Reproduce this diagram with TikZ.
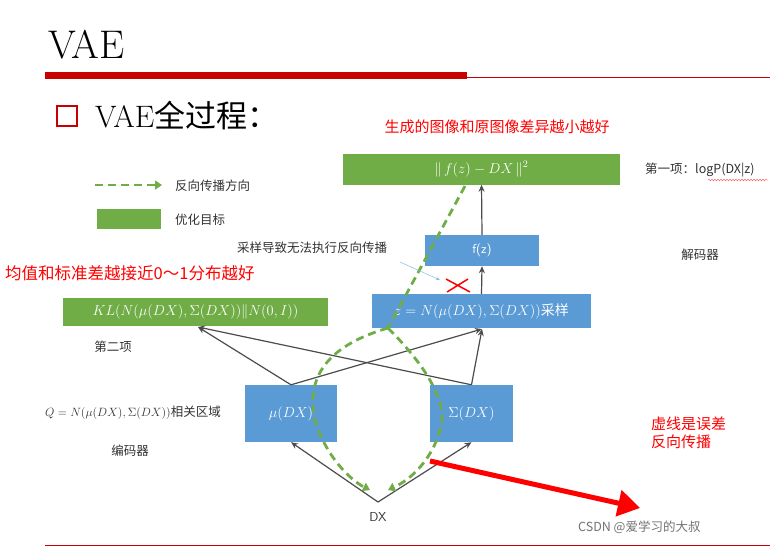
\documentclass[tikz,border=0pt]{standalone}
\usepackage{fontspec}
\newfontfamily\cjk{Noto Sans CJK SC}
\usetikzlibrary{arrows.meta,decorations.pathmorphing}
\definecolor{gbox}{RGB}{112,173,71}
\definecolor{bbox}{RGB}{91,155,213}
\definecolor{dred}{RGB}{200,0,0}
\begin{document}
\begin{tikzpicture}[x=1pt,y=-1pt,
  gr/.style={fill=gbox,draw=none,text=white,inner sep=0,font=\fontsize{14}{16}\selectfont},
  bl/.style={fill=bbox,draw=none,text=white,inner sep=0,font=\fontsize{14}{16}\selectfont},
  lbl/.style={font=\cjk\fontsize{12.5}{15}\selectfont,text=black!80,inner sep=0},
  rlbl/.style={font=\cjk\fontsize{15}{17}\selectfont,text=red,inner sep=0},
  ar/.style={draw=black!70,line width=1.2pt,-{Stealth[length=7pt,width=6pt]}},
  bp/.style={draw=gbox,line width=2.8pt,dash pattern=on 8pt off 5pt,-{Triangle[length=7pt,width=9pt]}}]
\useasboundingbox (0,0) rectangle (783,547);
\fill[white] (0,0) rectangle (783,547);
% header
\node[anchor=west,inner sep=0,font=\fontsize{40}{44}\selectfont] (title) at (48,45) {VAE};
\fill[dred] (45,72) rectangle (467,79);
\draw[dred,line width=0.8pt] (467,77) -- (770,77);
\draw[dred,line width=2.5pt] (57,106) rectangle (77,126);
\node[anchor=west,inner sep=0,font=\fontsize{31}{34}\selectfont] (sub) at (95,116) {VAE{\cjk 全过程：}};
\draw[dred,line width=0.8pt] (45,545) -- (770,545);
% boxes
\node[gr,minimum width=277,minimum height=31] (f) at (481.5,169) {$\Vert\, f(z) - DX\,\Vert^2$};
\node[bl,minimum width=114,minimum height=31,font=\sffamily\fontsize{13}{15}\selectfont] (fz) at (482,250.5) {f(z)};
\node[bl,minimum width=219,minimum height=34] (z) at (481.5,311) {$z=N\big(\mu(DX),\Sigma(DX)\big)${\cjk 采样}};
\node[gr,minimum width=265,minimum height=28] (kl) at (195.5,312) {$KL\big(N\big(\mu(DX),\Sigma(DX)\big)\Vert N(0,I)\big)$};
\node[bl,minimum width=92,minimum height=57] (mu) at (291,413.5) {$\mu(DX)$};
\node[bl,minimum width=83,minimum height=57] (sg) at (471.5,413.5) {$\Sigma(DX)$};
\node[inner sep=0,font=\sffamily\fontsize{13}{15}\selectfont,text=black!80] (dx) at (378,517) {DX};
\coordinate (dxp) at (378,502);
% labels
\node[rlbl] (t1) at (497,127) {生成的图像和原图像差异越小越好};
\node[lbl,anchor=west] (t2) at (645,170) {第一项：logP(DX|z)};
\draw[red!70,line width=0.4pt,decorate,decoration={snake,amplitude=0.8pt,segment length=3pt}] (708,180) -- (768,180);
\node[lbl,anchor=west] (t3) at (175,186) {反向传播方向};
\node[gr,minimum width=64,minimum height=20] (leg) at (129,219) {};
\node[lbl,anchor=west] (t4) at (175,220) {优化目标};
\node[lbl,anchor=west] (t5) at (237,248) {采样导致无法执行反向传播};
\node[lbl] (t6) at (700,255) {解码器};
\node[rlbl,anchor=west,font=\cjk\fontsize{16.5}{18}\selectfont] (t7) at (5,273) {均值和标准差越接近0～1分布越好};
\node[lbl] (t8) at (113,347) {第二项};
\node[lbl,anchor=west] (t9) at (45,413) {$Q=N\big(\mu(DX),\Sigma(DX)\big)$相关区域};
\node[lbl] (t10) at (130,451) {编码器};
\node[rlbl,anchor=west,align=left,font=\cjk\fontsize{15}{18}\selectfont] (t11) at (651,433) {虚线是误差\\反向传播};
\node[inner sep=0,anchor=west,font=\cjk\fontsize{12.5}{15}\selectfont,text=black!55] (t12) at (578,527) {CSDN @爱学习的大叔};
% legend arrow
\coordinate (la) at (95,185); \coordinate (lb) at (162,185);
\draw[bp] (la) -- (lb);
% gray arrows
\draw[ar] (dxp) -- (mu.south);
\draw[ar] (dxp) -- (sg.south);
\draw[ar] (mu.north) -- (198,327);
\draw[ar] (sg.north) -- (198,327);
\draw[ar] (mu.north) -- (482,329);
\draw[ar] (sg.north) -- (482,329);
\draw[ar] (z.north) -- (fz.south);
\draw[ar] (fz.north) -- (f.south);
% backprop
\coordinate (b0) at (465,186);
\coordinate (bz) at (388,328);
\draw[bp,-] (b0) -- (bz);
\draw[bp] (bz) .. controls (330,345) and (305,375) .. (315,420) .. controls (325,455) and (350,480) .. (370,490);
\draw[bp] (bz) .. controls (420,360) and (450,400) .. (440,430) .. controls (432,460) and (410,480) .. (388,490);
% red X
\draw[red,line width=1.5pt] (446,279) -- (470,292) (447,292) -- (468,279);
\coordinate (ta) at (400,262);
\draw[bbox!70,line width=0.5pt,-{Stealth[length=4pt]}] (ta) -- (440,280);
% big red arrow
\draw[red,line width=5pt,-{Triangle[length=22pt,width=26pt]}] (430,461) -- (640,508);
\end{tikzpicture}
\end{document}
